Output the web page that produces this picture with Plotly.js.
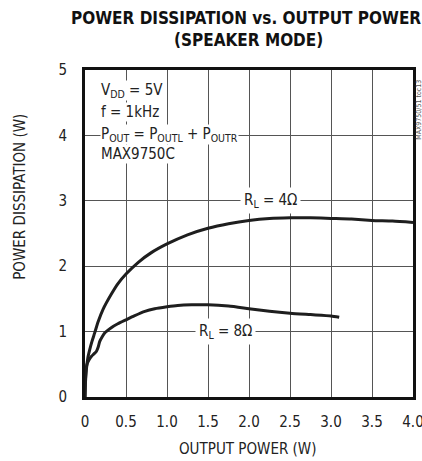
<!DOCTYPE html>
<html>
<head>
<meta charset="utf-8">
<script src="https://cdn.plot.ly/plotly-3.0.1.min.js"></script>
<style>html,body{margin:0;padding:0;background:#fff;}#chart{width:422px;height:461px;}</style>
</head>
<body>
<div id="chart"></div>
<script>
// Data
const x4 = [0, 0.005, 0.016, 0.035, 0.057, 0.085, 0.118, 0.16, 0.22, 0.32, 0.4, 0.5, 0.65, 0.8, 1.0, 1.25, 1.5, 1.75, 2.0, 2.25, 2.5, 2.75, 3.0, 3.25, 3.5, 3.75, 4.0];
const y4 = [0, 0.2, 0.41, 0.6, 0.72, 0.85, 0.98, 1.15, 1.34, 1.57, 1.73, 1.88, 2.06, 2.2, 2.34, 2.48, 2.58, 2.65, 2.70, 2.73, 2.74, 2.74, 2.73, 2.72, 2.70, 2.69, 2.67];
const x8 = [0, 0.005, 0.016, 0.03, 0.05, 0.077, 0.11, 0.14, 0.16, 0.18, 0.21, 0.24, 0.32, 0.4, 0.5, 0.6, 0.73, 0.85, 1.0, 1.13, 1.3, 1.5, 1.75, 2.0, 2.25, 2.5, 2.75, 3.0, 3.1];
const y8 = [0, 0.25, 0.45, 0.52, 0.57, 0.62, 0.66, 0.70, 0.76, 0.85, 0.92, 0.98, 1.06, 1.12, 1.18, 1.24, 1.31, 1.35, 1.38, 1.40, 1.41, 1.41, 1.39, 1.35, 1.31, 1.28, 1.26, 1.24, 1.22];
const xTicks = [0, 0.5, 1.0, 1.5, 2.0, 2.5, 3.0, 3.5, 4.0];
const xTickText = ["0", "0.5", "1.0", "1.5", "2.0", "2.5", "3.0", "3.5", "4.0"];
const yTicks = [0, 1, 2, 3, 4, 5];
const titleLines = ["POWER DISSIPATION vs. OUTPUT POWER", "(SPEAKER MODE)"];
const infoLines = ["V<sub>DD</sub> = 5V", "f = 1kHz", "P<sub>OUT</sub> = P<sub>OUTL</sub> + P<sub>OUTR</sub>", "MAX9750C"];
const infoY = [4.68, 4.36, 4.02, 3.71];
const curveLabels = ["R<sub>L</sub> = 4Ω", "R<sub>L</sub> = 8Ω"];
const curveLabelX = [2.26, 1.71];
const curveLabelY = [3, 1];

const FONT = "'DejaVu Sans Condensed', 'Liberation Sans Narrow', 'DejaVu Sans', sans-serif";
const lineStyle = {color: '#1e1e1e', width: 3, shape: 'spline', smoothing: 0.6};

const traces = [
  {x: x4, y: y4, mode: 'lines', line: lineStyle, hoverinfo: 'skip', showlegend: false},
  {x: x8, y: y8, mode: 'lines', line: lineStyle, hoverinfo: 'skip', showlegend: false}
];

const annotations = [];
const titleX = [0.491, 0.497];
const titleY = [1.158, 1.091];
titleLines.forEach((t, i) => annotations.push({
  x: titleX[i], y: titleY[i], xref: 'paper', yref: 'paper', text: '<b>' + t + '</b>',
  showarrow: false, xanchor: 'center', yanchor: 'middle',
  font: {family: FONT, size: 17, color: '#111'}
}));
infoLines.forEach((t, i) => annotations.push({
  x: 0.18, y: infoY[i], xref: 'x', yref: 'y', text: t, showarrow: false,
  xanchor: 'left', yanchor: 'middle', bgcolor: '#fff', borderpad: 0,
  font: {family: FONT, size: 15, color: '#222'}
}));
curveLabels.forEach((t, i) => annotations.push({
  x: curveLabelX[i], y: curveLabelY[i], xref: 'x', yref: 'y', text: t, showarrow: false,
  xanchor: 'center', yanchor: 'middle', bgcolor: '#fff', borderpad: 3,
  font: {family: FONT, size: 15, color: '#222'}
}));
annotations.push({
  x: -0.198, y: 0.6125, xref: 'paper', yref: 'paper', text: 'POWER DISSIPATION (W)',
  textangle: -90, showarrow: false, xanchor: 'center', yanchor: 'middle',
  font: {family: FONT, size: 15, color: '#222'}
});
annotations.push({
  x: 0.495, y: -0.159, xref: 'paper', yref: 'paper', text: 'OUTPUT POWER (W)',
  showarrow: false, xanchor: 'center', yanchor: 'middle',
  font: {family: FONT, size: 15, color: '#222'}
});
annotations.push({
  x: 1.018, y: 0.878, xref: 'paper', yref: 'paper', text: 'MAX9750/51 toc13',
  textangle: -90, showarrow: false, xanchor: 'center', yanchor: 'middle',
  font: {family: FONT, size: 7, color: '#555'}
});

const layout = {
  width: 422, height: 461,
  margin: {l: 85, r: 9, t: 70, b: 64},
  paper_bgcolor: '#fff', plot_bgcolor: '#fff',
  xaxis: {
    range: [0, 4], tickvals: xTicks, ticktext: xTickText,
    showgrid: true, gridcolor: '#555', gridwidth: 1,
    showline: true, linecolor: '#111', linewidth: 3, mirror: true,
    ticks: 'outside', ticklen: 9, tickcolor: 'rgba(0,0,0,0)',
    ticklabeloverflow: 'allow',
    zeroline: false, fixedrange: true,
    tickfont: {family: FONT, size: 15, color: '#222'}
  },
  yaxis: {
    range: [0, 5], tickvals: yTicks,
    showgrid: true, gridcolor: '#555', gridwidth: 1,
    showline: true, linecolor: '#111', linewidth: 3, mirror: true,
    ticks: 'outside', ticklen: 12, tickcolor: 'rgba(0,0,0,0)',
    zeroline: false, fixedrange: true,
    tickfont: {family: FONT, size: 15, color: '#222'}
  },
  annotations: annotations
};

Plotly.newPlot('chart', traces, layout, {staticPlot: true, displayModeBar: false});
</script>
</body>
</html>
